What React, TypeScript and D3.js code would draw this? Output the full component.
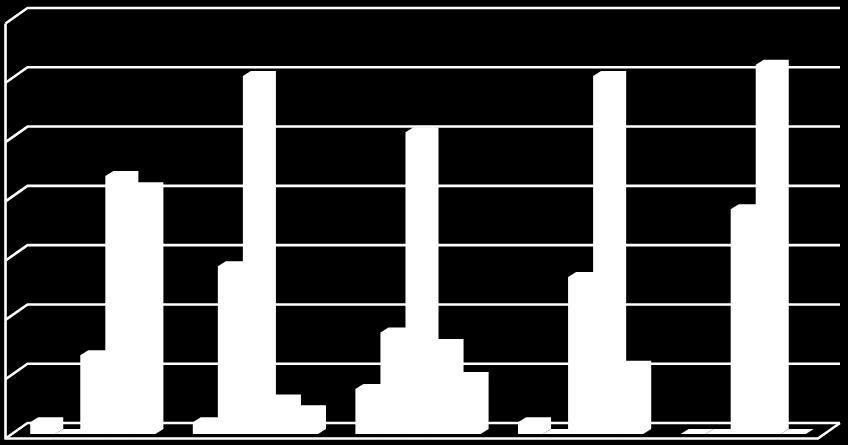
import { useEffect, useRef } from "react";
import * as d3 from "d3";

// values, one list per group, one entry per series
const groups = ["A", "B", "C", "D", "E"];
const series = ["s1", "s2", "s3", "s4", "s5"];
const groupA = [0.2, 0, 1.33, 4.35, 4.16];
const groupB = [0.2, 2.83, 6.04, 0.58, 0.4];
const groupC = [0.76, 1.71, 5.09, 1.52, 0.96];
const groupD = [0.2, 0, 2.65, 6.04, 1.15];
const groupE = [0, 0, 3.79, 6.23, 0];
const groupValues = [groupA, groupB, groupC, groupD, groupE];
const gridTicks = [0, 1, 2, 3, 4, 5, 6, 7];

export default function App() {
  const ref = useRef<HTMLDivElement>(null);

  useEffect(() => {
    if (!ref.current) return;

    const container = ref.current;
    container.innerHTML = "";

    const width = 848;
    const height = 445;

    const svg = d3
      .select(container)
      .append("svg")
      .attr("width", width)
      .attr("height", height)
      .style("display", "block")
      .style("background", "#000");

    // -----------------------------
    // Pseudo 3D frame
    // -----------------------------
    const floorFront = { left: 5.5, right: 818, y: 438.5 };
    const wallDepth = { dx: 22, dy: -15.5 };
    const barDepth = { dx: 8, dy: -5 };
    const barBaseY = 434;

    // height above the floor, measured on the back wall
    const y = d3.scaleLinear().domain([0, 7]).range([0, 415]);

    const x0 = d3
      .scaleBand<string>()
      .domain(groups)
      .range([floorFront.left + 6, floorFront.right + 6.5])
      .paddingInner(0.23)
      .paddingOuter(0.115);

    const x1 = d3.scaleBand<string>().domain(series).range([0, x0.bandwidth()]);

    const lineColor = "#fff";
    const lineWidth = 2.6;

    // -----------------------------
    // Gridlines + wall + floor
    // -----------------------------
    const line = d3.line();
    const grid = svg.append("g").attr("fill", "none").attr("stroke", lineColor).attr("stroke-width", lineWidth);

    gridTicks.forEach((t) => {
      const frontY = floorFront.y - y(t);
      grid
        .append("path")
        .attr(
          "d",
          line([
            [floorFront.left, frontY],
            [floorFront.left + wallDepth.dx, frontY + wallDepth.dy],
            [floorFront.right + wallDepth.dx, frontY + wallDepth.dy],
          ])
        );
    });

    grid
      .append("path")
      .attr(
        "d",
        line([
          [floorFront.left, floorFront.y - y(7)],
          [floorFront.left, floorFront.y],
          [floorFront.right, floorFront.y],
          [floorFront.right + wallDepth.dx, floorFront.y + wallDepth.dy],
        ])
      );

    // -----------------------------
    // Bars: front, side and cap as one outline
    // -----------------------------
    const bars = groups.flatMap((g, i) =>
      series.map((s, j) => ({ group: g, key: s, value: groupValues[i][j] }))
    );

    svg
      .append("g")
      .selectAll("path")
      .data(bars)
      .join("path")
      .attr("fill", "#fff")
      .attr("d", (d) => {
        const left = x0(d.group)! + x1(d.key)!;
        const right = left + x1.bandwidth();
        const top = barBaseY - y(d.value);
        return line([
          [left, barBaseY],
          [left, top],
          [left + barDepth.dx, top + barDepth.dy],
          [right + barDepth.dx, top + barDepth.dy],
          [right + barDepth.dx, barBaseY + barDepth.dy],
          [right, barBaseY],
        ])!;
      });
  }, []);

  return <div ref={ref} style={{ position: "absolute", left: 0, top: 0 }} />;
}
